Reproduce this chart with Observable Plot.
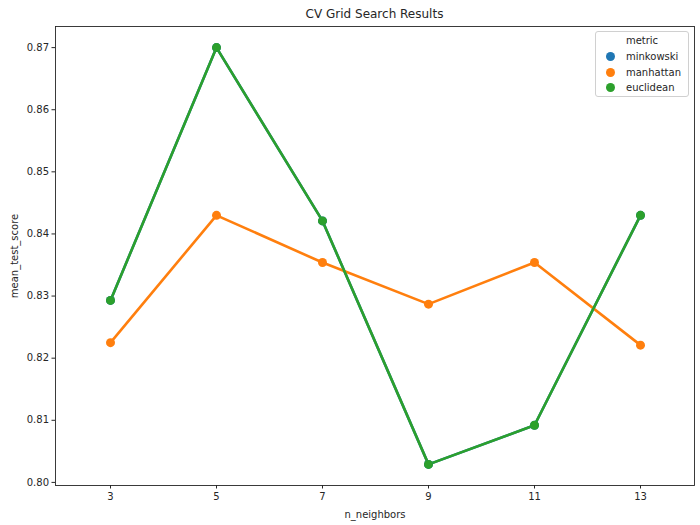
<!DOCTYPE html>
<html>
<head>
<meta charset="utf-8">
<script src="https://cdn.jsdelivr.net/npm/d3@7"></script>
<script src="https://cdn.jsdelivr.net/npm/@observablehq/plot@0.6"></script>
<style>
  html, body { margin: 0; padding: 0; background: #fff; }
  body { width: 700px; height: 525px; position: relative; overflow: hidden; font-family: "DejaVu Sans", sans-serif; color: #262626; }
  #title { height: 26px; width: 700px; position: relative; }
  #title span { position: absolute; left: 55px; width: 639px; text-align: center; top: 7px; font-size: 12px; }
  #legend { position: absolute; left: 595px; top: 31px; width: 94px; height: 66px; border: 1px solid #d0d0d0; border-radius: 3px; background: rgba(255,255,255,0.8); font-size: 10px; box-sizing: border-box; }
  #legend .t { text-align: center; margin-top: 3px; height: 14px; }
  #legend .row { height: 15.5px; display: flex; align-items: center; }
  #legend .sw { width: 9px; height: 9px; border-radius: 50%; margin-left: 10px; margin-right: 11px; }
</style>
</head>
<body>
<div id="title"><span>CV Grid Search Results</span></div>
<div id="chart"></div>
<div id="legend"></div>
<script>
const neighbors = [3, 5, 7, 9, 11, 13];
const metrics = ["minkowski", "manhattan", "euclidean"];
const colors = ["#1f77b4", "#ff7f0e", "#2ca02c"];
const minkowskiScores = [0.8293, 0.8700, 0.8421, 0.8029, 0.8092, 0.8430];
const manhattanScores = [0.8225, 0.8430, 0.8354, 0.8287, 0.8354, 0.8221];
const euclideanScores = [0.8293, 0.8700, 0.8421, 0.8029, 0.8092, 0.8430];
const yTicks = [0.80, 0.81, 0.82, 0.83, 0.84, 0.85, 0.86, 0.87];

const series = [minkowskiScores, manhattanScores, euclideanScores];
const data = [];
metrics.forEach((m, i) => neighbors.forEach((n, j) => data.push({metric: m, n: n, score: series[i][j]})));

const chart = Plot.plot({
  width: 700,
  height: 499,
  marginTop: 0,
  marginLeft: 55,
  marginRight: 6,
  marginBottom: 40,
  style: {fontFamily: "DejaVu Sans, sans-serif", fontSize: "10px", color: "#262626", background: "#fff"},
  x: {type: "point", domain: neighbors, padding: 0.5},
  y: {domain: [0.7995, 0.8734]},
  color: {domain: metrics, range: colors},
  marks: [
    Plot.frame({stroke: "#262626", strokeWidth: 0.9}),
    Plot.axisX({ticks: neighbors, tickSize: 3.5, tickPadding: 4, label: "n_neighbors", labelAnchor: "center", labelArrow: "none", labelOffset: 32}),
    Plot.axisY({ticks: yTicks, tickFormat: d3.format(".2f"), tickSize: 3.5, tickPadding: 3, label: "mean_test_score", labelAnchor: "center", labelArrow: "none", labelOffset: 45}),
    ...metrics.map(m => Plot.line(data.filter(d => d.metric === m), {x: "n", y: "score", stroke: "metric", strokeWidth: 2.6})),
    ...metrics.map(m => Plot.dot(data.filter(d => d.metric === m), {x: "n", y: "score", fill: "metric", r: 4.5, stroke: "none"}))
  ]
});
// interleave so each metric's line+dots draw together in order
document.getElementById("chart").appendChild(chart);

const leg = document.getElementById("legend");
let html = '<div class="t">metric</div>';
metrics.forEach((m, i) => { html += `<div class="row"><div class="sw" style="background:${colors[i]}"></div><span>${m}</span></div>`; });
leg.innerHTML = html;
</script>
</body>
</html>
